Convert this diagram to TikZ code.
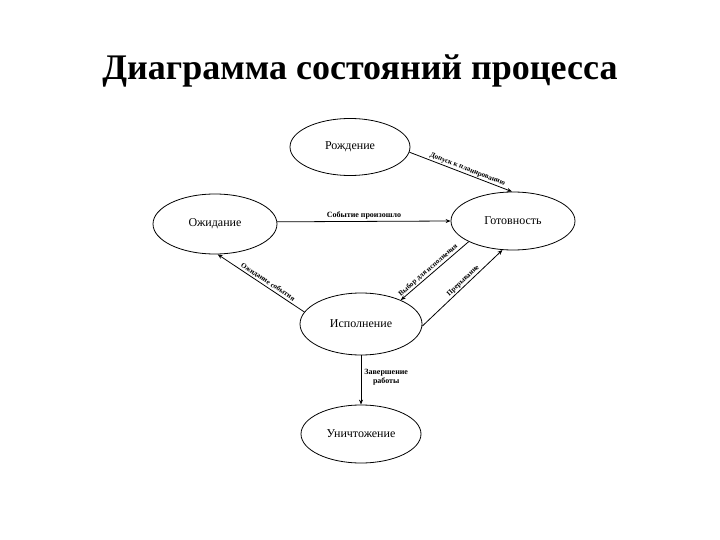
\documentclass[tikz,border=0pt]{standalone}
\usepackage{fontspec}
\setmainfont{Liberation Serif}
\usetikzlibrary{shapes.geometric,arrows.meta}
\tikzset{
  state/.style={draw, ellipse, line width=0.8pt, minimum width=122pt, minimum height=59pt, inner sep=0pt, font=\fontsize{12}{14}\selectfont},
  conn/.style={draw, line width=0.8pt, -{Stealth[length=5pt,width=4pt]}},
  lbl/.style={font=\fontsize{8}{9}\selectfont\bfseries, inner sep=1pt},
  slbl/.style={font=\fontsize{7.2}{8}\selectfont\bfseries, inner sep=1pt, sloped, above},
}
\begin{document}
\begin{tikzpicture}[x=1pt,y=-1pt]
\useasboundingbox (0,0) rectangle (720,540);
\node[font=\fontsize{36}{40}\selectfont\bfseries] (title) at (360,71) {Диаграмма состояний процесса};
\node[state, minimum width=120pt, minimum height=57pt] (rozh) at (350,147) {Рождение};
\node[state, minimum width=124pt, minimum height=60pt] (ozh) at (215,224) {Ожидание};
\node[state, minimum width=124pt, minimum height=58pt] (got) at (513,221) {Готовность};
\node[state, minimum width=122pt, minimum height=62pt] (isp) at (361,324) {Исполнение};
\node[state, minimum width=120pt, minimum height=58pt] (un) at (361,434) {Уничтожение};

\draw[conn] (rozh.-5) -- node[slbl, pos=0.55] {Допуск к планированию} (got.92);
\draw[conn] (ozh.2) -- node[lbl, above, pos=0.5, yshift=1pt] {Событие произошло} (got.180);
\draw[conn] (got.205.6) -- node[slbl, pos=0.55] {Выбор для исполнения} (isp.31.8);
\draw[conn] (isp.-2) -- node[slbl, pos=0.55] {Прерывание} (got.250);
\draw[conn] (isp.168) -- node[slbl, pos=0.45] {Ожидание события} (ozh.275.5);
\draw[conn] (isp.south) -- node[lbl, right, align=center, xshift=2pt, pos=0.45] {Завершение\\работы} (un.north);
\end{tikzpicture}
\end{document}
